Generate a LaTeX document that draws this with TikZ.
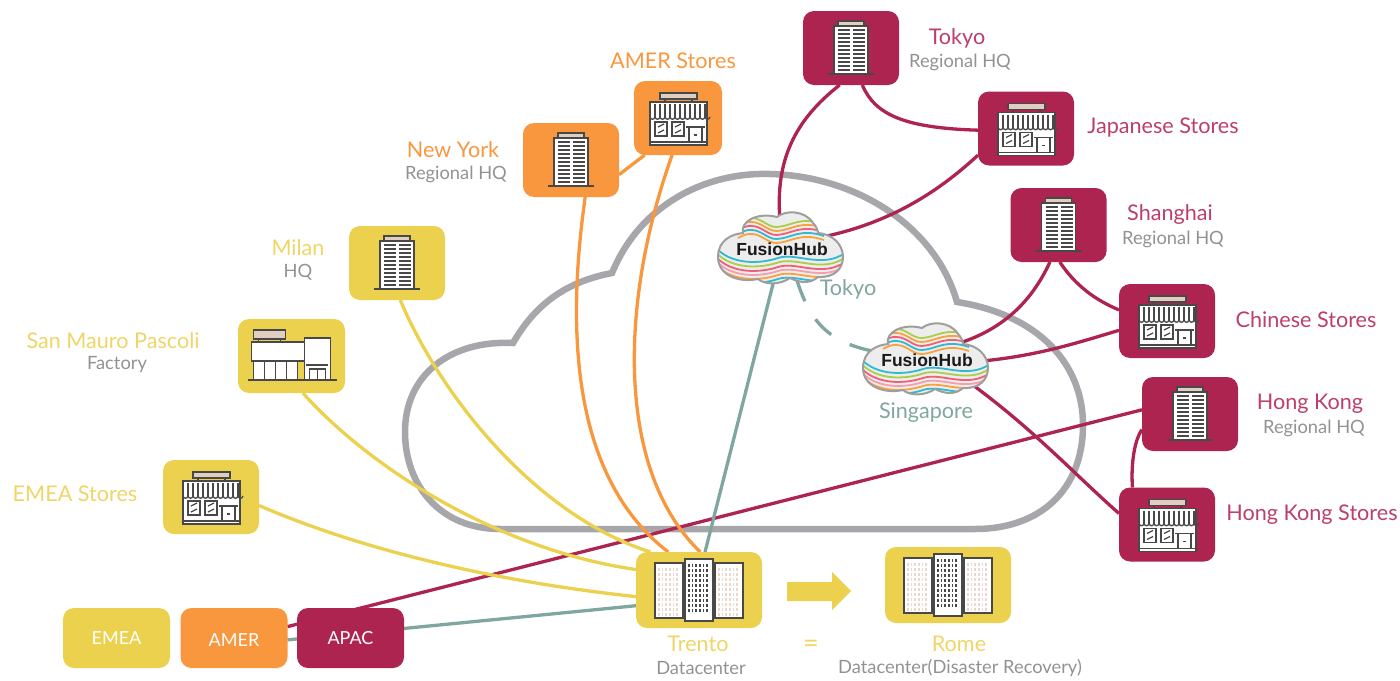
\documentclass[tikz,border=0pt]{standalone}
\usepackage{fontspec}
\setmainfont{Lato}
\newfontfamily\hubfont{Liberation Sans}
\usepackage{xcolor}
\usepackage{tikz}
\usetikzlibrary{shapes.geometric,backgrounds}

\definecolor{siteyellow}{HTML}{ECD14F}
\definecolor{siteorange}{HTML}{F8973E}
\definecolor{sitered}{HTML}{AE2450}
\definecolor{redtext}{HTML}{BC3F68}
\definecolor{yellowtext}{HTML}{EFD566}
\definecolor{linkteal}{HTML}{7FA69F}
\definecolor{cloudgrey}{HTML}{A6A6AB}
\definecolor{subgrey}{HTML}{929292}
\definecolor{iconline}{HTML}{484848}
\definecolor{icontan}{HTML}{E0CFC0}
\definecolor{palewin}{HTML}{EAD8CE}
\definecolor{wavegreen}{HTML}{A9CF46}
\definecolor{waveorange}{HTML}{F8A13E}
\definecolor{wavepink}{HTML}{EF5F78}
\definecolor{wavecyan}{HTML}{2FBAD0}

\def\hubcloud{(-62,9) .. controls (-62,-8) and (-48,-14) .. (-37,-15)
  .. controls (-40,-27) and (-22,-36) .. (-3,-31)
  .. controls (5,-38) and (25,-38) .. (33,-25)
  .. controls (36,-22) and (38,-18) .. (38,-15)
  .. controls (52,-14) and (63,-4) .. (63,9)
  .. controls (63,20) and (55,30) .. (38,29)
  .. controls (30,36) and (20,35) .. (10,30)
  .. controls (0,37) and (-15,37) .. (-22,31)
  .. controls (-40,35) and (-62,28) .. (-62,9) -- cycle}

\tikzset{
  sitebox/.style={rounded corners=11pt,minimum width=96pt,minimum height=74pt,inner sep=0pt,outer sep=0pt},
  dcbox/.style={sitebox,fill=siteyellow,minimum width=126pt,minimum height=76pt},
  regionbox/.style={rounded corners=11pt,minimum width=107pt,minimum height=60pt,inner sep=0pt,outer sep=0pt,
    text=white,font=\fontsize{18}{22}\selectfont},
  hubspot/.style={ellipse,minimum width=80pt,minimum height=56pt,inner sep=0pt,outer sep=0pt},
  placename/.style={font=\fontsize{21.6}{26}\selectfont,yshift=-1pt},
  subname/.style={font=\fontsize{18.3}{21}\selectfont,text=subgrey,yshift=-2pt},
  link/.style={line width=3.3pt},
  iconpen/.style={draw=iconline,line width=1.3pt},
  hqicon/.pic={
    \draw[iconpen,fill=icontan] (-13,-27) rectangle (13,-22);
    \draw[iconpen,fill=white] (-17,-22) rectangle (17,26);
    \foreach \fy in {-18,-14,...,22} {
      \draw[iconline,line width=1.5pt] (-13,\fy) -- (-1,\fy) (2,\fy) -- (14,\fy);
    }
    \draw[iconpen] (-23,26) -- (23,26);
  },
  shopicon/.pic={
    \draw[iconpen,fill=icontan] (-18,-25) rectangle (19,-19);
    \draw[iconpen] (-13,-19) -- (-13,-16) (14,-19) -- (14,-16);
    \draw[iconpen,fill=white] (-28,-16) rectangle (29,27);
    \foreach \sx in {-28,-23,...,27} {
      \draw[iconpen] (\sx,-14) -- (\sx,-1);
      \draw[iconpen] (\sx,-1) .. controls ({\sx+1},2) and ({\sx+4},2) .. ({\sx+5},-1);
    }
    \draw[iconpen] (-23,4) rectangle (-11,18) (-6,4) rectangle (6,18);
    \draw[iconpen] (-20,9) -- (-14,6) (-20,15) -- (-14,12) (-3,9) -- (3,6) (-3,15) -- (3,12);
    \draw[iconpen] (8,9) -- (27,9) (11,9) -- (11,24) (24,9) -- (24,24) (16,17) -- (19,17);
    \draw[iconpen] (-28,24) -- (29,24);
  },
  factoryicon/.pic={
    \draw[iconpen,fill=icontan] (-38,-26) rectangle (-6,-17);
    \draw[iconpen] (-33,-17) -- (-33,-14) (-11,-17) -- (-11,-14);
    \draw[iconpen,fill=white] (-40,-14) rectangle (13,5);
    \draw[iconpen,fill=white] (-38,5) rectangle (6,24);
    \draw[iconpen] (-27,5) -- (-27,24) (-16,5) -- (-16,24) (-5,5) -- (-5,24);
    \draw[iconpen,fill=white] (13,-18) rectangle (39,24);
    \draw[iconpen] (14,9) -- (36,9) (18,13) rectangle (34,24) (26,13) -- (26,24);
    \draw[iconpen] (-44,24) -- (45,24);
  },
  dcicon/.pic={
    \foreach \bx/\ty/\by/\wcol in {-44/-27/28/palewin,16/-27/28/palewin,-14/-31/31/iconline} {
      \draw[iconline,line width=1.3pt,fill=white] (\bx,\ty) rectangle ({\bx+28},\by);
      \foreach \wx in {4,7.6,...,25} {
        \foreach \wy in {5,10,...,50} {
          \draw[\wcol,line width=1.7pt] ({\bx+\wx},{\ty+\wy}) -- ({\bx+\wx},{\ty+\wy+3});
        }
      }
    }
  },
  hubicon/.pic={
    \fill[white] \hubcloud;
    \begin{scope}
      \clip \hubcloud;
      \fill[black!7] (-70,-45) rectangle (70,45);
      % upper waves
      \foreach \wo/\wc in {0/wavegreen,4/waveorange,8/wavepink,12/wavecyan,16/waveorange} {
        \draw[\wc,line width=1.8pt] (-42,{-26+\wo}) .. controls (-22,{-38+\wo}) and (-15,{-20+\wo}) .. (-3,{-21+\wo})
          .. controls (12,{-22+\wo}) and (20,{-32+\wo}) .. (44,{-24+\wo});
      }
      % lower waves
      \foreach \wo/\wc in {0/wavecyan,4.5/wavegreen,9/wavepink,13/wavepink!60!white,17/waveorange,21/wavecyan} {
        \draw[\wc,line width=1.8pt] (-64,{0+\wo}) .. controls (-48,{17+\wo}) and (-20,{16+\wo}) .. (-2,{10+\wo})
          .. controls (16,{4+\wo}) and (42,{21+\wo}) .. (65,{5+\wo});
      }
    \end{scope}
    \draw[black!38,line width=2pt] \hubcloud;
    \node[font=\hubfont\bfseries\fontsize{17.5}{18}\selectfont,text=black!90,inner sep=0pt] at (2,1) {FusionHub};
  }
}

\begin{document}
\begin{tikzpicture}[x=1pt,y=-1pt]
\useasboundingbox (0,0) rectangle (1400,680);

% The sites
\node[sitebox,fill=sitered] (tokyo) at (851,48) {};
\node[sitebox,fill=sitered] (japan) at (1026,128.5) {};
\node[sitebox,fill=sitered] (shanghai) at (1058.5,225) {};
\node[sitebox,fill=sitered] (chinastores) at (1167,321) {};
\node[sitebox,fill=sitered] (hongkong) at (1190,414) {};
\node[sitebox,fill=sitered] (hkstores) at (1167,524.5) {};
\node[sitebox,fill=siteorange,minimum width=88pt] (amerstores) at (678,118) {};
\node[sitebox,fill=siteorange] (newyork) at (571,160) {};
\node[sitebox,fill=siteyellow] (milan) at (397,263) {};
\node[sitebox,fill=siteyellow,minimum width=107pt] (sanmauro) at (291.5,356) {};
\node[sitebox,fill=siteyellow] (emeastores) at (211,497) {};
\node[dcbox] (trento) at (699,590) {};
\node[dcbox] (rome) at (948,585) {};
\node[regionbox,fill=siteyellow] (emea) at (116.5,638) {EMEA};
\node[regionbox,fill=siteorange] (amer) at (234,638) {\raisebox{-2pt}[\height][0pt]{AMER}};
\node[regionbox,fill=sitered] (apac) at (350.5,638) {APAC};
\node[hubspot] (hubtokyo) at (780,248) {};
\node[hubspot] (hubsing) at (925,359) {};

\begin{scope}[on background layer]
% The big cloud
\draw[cloudgrey,line width=6.5pt,line join=miter] (513,343) .. controls (535,305) and (565,282) .. (612,273)
  .. controls (640,205) and (705,172) .. (770,174)
  .. controls (855,176) and (935,225) .. (957,302)
  .. controls (1040,315) and (1083,365) .. (1083,425)
  .. controls (1083,490) and (1040,529) .. (975,529)
  -- (500,529) .. controls (440,529) and (405,485) .. (405,432)
  .. controls (405,375) and (450,340) .. (513,343) -- cycle;

% The links
\draw[link,sitered] (tokyo.253) .. controls (795,120) and (775,160) .. (hubtokyo.north);
\draw[link,sitered] (tokyo.287) .. controls (875,115) and (905,128) .. (japan.182);
\draw[link,sitered] (japan.209) .. controls (935,195) and (885,225) .. (hubtokyo.15);
\draw[link,sitered] (shanghai.257) .. controls (1030,305) and (1000,330) .. (hubsing.25);
\draw[link,sitered] (shanghai.272) .. controls (1075,285) and (1095,300) .. (chinastores.167);
\draw[link,sitered] (chinastores.191) .. controls (1070,345) and (1030,358) .. (hubsing.355);
\draw[link,sitered] (hubsing.335) .. controls (1030,425) and (1075,475) .. (hkstores.167);
\draw[link,sitered] (hongkong.198) .. controls (1133,442) and (1131,470) .. (hkstores.133);
\draw[link,sitered] (hongkong.175) -- (amer.12);
\draw[link,linkteal] (hubtokyo.260) -- (trento.81);
\draw[link,linkteal] (trento.194) -- (amer.358);
\draw[link,linkteal,dash pattern=on 22pt off 21pt,dash phase=36pt] (hubtokyo.300) .. controls (810,325) and (830,345) .. (hubsing.172);
\draw[link,siteorange] (newyork.343) -- (amerstores.228);
\draw[link,siteorange] (newyork.291) .. controls (565,340) and (575,480) .. (trento.129);
\draw[link,siteorange] (amerstores.261) .. controls (620,300) and (615,470) .. (trento.88);
\draw[link,siteyellow] (milan.275) .. controls (440,395) and (535,515) .. (trento.142);
\draw[link,siteyellow] (sanmauro.287) .. controls (372,470) and (500,550) .. (trento.162);
\draw[link,siteyellow] (emeastores.350) .. controls (350,545) and (480,580) .. (trento.186);
\end{scope}

% The icons
\pic at (tokyo) {hqicon};
\pic at (shanghai) {hqicon};
\pic at (hongkong) {hqicon};
\pic at (newyork) {hqicon};
\pic at (milan) {hqicon};
\pic at (japan) {shopicon};
\pic at (chinastores) {shopicon};
\pic at (hkstores) {shopicon};
\pic at (amerstores) {shopicon};
\pic at (emeastores) {shopicon};
\pic at (sanmauro) {factoryicon};
\pic at (trento) {dcicon};
\pic at (rome) {dcicon};
\pic at (hubtokyo) {hubicon};
\pic at (hubsing) {hubicon};

% The failover arrow
\fill[siteyellow] (787,582) -- (832,582) -- (832,572) -- (851,591) -- (832,610) -- (832,601) -- (787,601) -- cycle;

% The labels
\node[placename,text=redtext] (tokyoname) at (957,37) {Tokyo};
\node[subname] (tokyosub) at (960,60) {Regional HQ};
\node[placename,text=redtext] (japanname) at (1163,127) {Japanese Stores};
\node[placename,text=redtext] (shanghainame) at (1170,214) {Shanghai};
\node[subname] (shanghaisub) at (1173,237) {Regional HQ};
\node[placename,text=redtext] (chinaname) at (1306,319) {Chinese Stores};
\node[placename,text=redtext] (hongkongname) at (1310,403) {Hong Kong};
\node[subname] (hongkongsub) at (1314,426) {Regional HQ};
\node[placename,text=redtext] (hkstoresname) at (1312,514) {Hong Kong Stores};
\node[placename,text=siteorange] (amerstoresname) at (673,60) {AMER Stores};
\node[placename,text=siteorange] (newyorkname) at (453,149) {New York};
\node[subname] (newyorksub) at (456,172) {Regional HQ};
\node[placename,text=yellowtext] (milanname) at (298,247) {Milan};
\node[subname] (milansub) at (298,270) {HQ};
\node[placename,text=yellowtext] (sanmauroname) at (113,340) {San Mauro Pascoli};
\node[subname] (sanmaurosub) at (117,363) {Factory};
\node[placename,text=yellowtext] (emeaname) at (75,493) {EMEA Stores};
\node[placename,text=yellowtext] (trentoname) at (698,643) {Trento};
\node[subname] (trentosub) at (701,666) {Datacenter};
\node[placename,text=yellowtext,font=\fontsize{27}{30}\selectfont] (equalsign) at (811,645) {=};
\node[placename,text=yellowtext] (romename) at (959,643) {Rome};
\node[subname] (romesub) at (960,666) {Datacenter(Disaster Recovery)};
\node[placename,text=linkteal] (hubtokyoname) at (848,288) {Tokyo};
\node[placename,text=linkteal] (hubsingname) at (926,412) {Singapore};
\end{tikzpicture}
\end{document}
